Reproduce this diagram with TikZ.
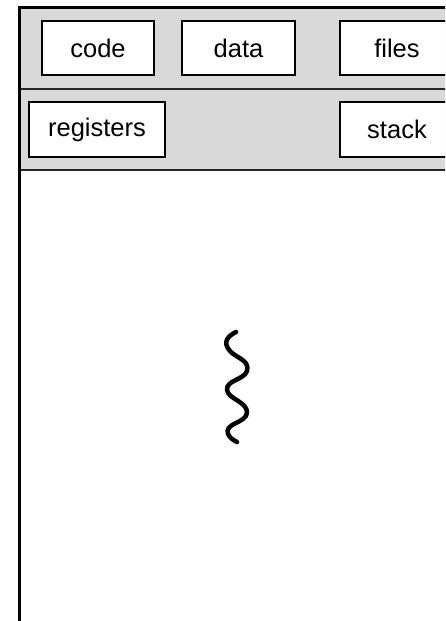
\documentclass[tikz,border=0pt]{standalone}
\usepackage{fontspec}
\setmainfont{Liberation Sans}
\definecolor{panelgray}{RGB}{217,217,217}
\begin{document}
\begin{tikzpicture}[x=1pt,y=-1pt,
  itembox/.style={draw=black,line width=2.8pt,fill=white,inner sep=0pt,
    font=\fontsize{25.5}{29}\selectfont},
  divider/.style={draw=black!85,line width=2pt}]
\useasboundingbox (0,0) rectangle (445,621);
\clip (0,0) rectangle (445,621);
\fill[white] (0,0) rectangle (445,621);
% outer panel
\fill[panelgray] (19,7.5) rectangle (480,170);
\draw[divider] (19,89) -- (480,89);
\draw[divider] (19,170) -- (480,170);
\draw[line width=3pt] (480,7.5) -- (19,7.5) -- (19,660);
% boxes
\node[itembox,minimum width=112pt,minimum height=54pt] (code) at (98,48) {code};
\node[itembox,minimum width=113pt,minimum height=54pt] (data) at (238.5,48) {data};
\node[itembox,minimum width=114pt,minimum height=54pt] (files) at (397,48) {files};
\node[itembox,minimum width=136pt,minimum height=55pt] (registers) at (97,129.5) {registers};
\node[itembox,minimum width=114pt,minimum height=55pt] (stack) at (397,129.5) {stack};
% thread squiggle
\draw[line width=4.5pt,line cap=round,line join=round]
  (236,332) .. controls (228,336) and (222,342) .. (230,351)
  .. controls (236,358) and (250,360) .. (247,371)
  .. controls (244,380) and (226,380) .. (227,390)
  .. controls (228,399) and (248,402) .. (247,413)
  .. controls (246,423) and (224,423) .. (228,434)
  .. controls (230,438) and (233,440) .. (237,442);
\end{tikzpicture}
\end{document}
